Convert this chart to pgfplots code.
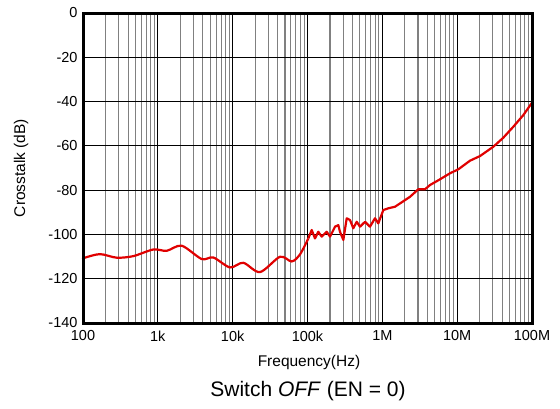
\documentclass[border=0pt]{standalone}
\usepackage{pgfplots}
\pgfplotsset{compat=1.18}
\usepackage{fontspec}
\setmainfont{Liberation Sans}
\definecolor{curvered}{RGB}{224,0,0}
\definecolor{minorgray}{RGB}{128,128,128}
\begin{document}
\begin{tikzpicture}[x=1pt,y=1pt]
\useasboundingbox (-83,-85) rectangle (477,323);
\begin{axis}[
    scale only axis,
    width=449pt, height=310pt,
    xmode=log,
    xmin=100, xmax=1e8,
    ymin=-140, ymax=0,
    xtick={1e2,1e3,1e4,1e5,1e6,1e7,1e8},
    xticklabels={100,1k,10k,100k,1M,10M,100M},
    ytick={-140,-120,-100,-80,-60,-40,-20,0},
    yticklabels={-140,-120,-100,-80,-60,-40,-20,0},
    grid=both,
    major grid style={black, line width=0.9pt},
    minor grid style={minorgray, line width=1.1pt},
    major tick length=0pt, minor tick length=0pt,
    axis line style={black, line width=3pt},
    tick label style={font=\fontsize{14.5}{16}\selectfont},
    xticklabel style={yshift=-4pt},
    yticklabel style={xshift=-2pt},
    clip=false,
]
\addplot[curvered, line width=2.2pt, smooth, tension=0.5] coordinates {
(100,-111) (106,-110.5) (169,-108.9) (282,-110.5) (470,-109.8) (871,-106.8)
(1312,-107.4) (2084,-105.1) (3855,-111.1) (5508,-110.4) (9204,-114.9)
(13870,-112.8) (23170,-117.0) (42850,-110.1) (61520,-112.2) (79430,-109)
(102600,-101.8)
};
\addplot[curvered, line width=2.2pt, line join=round] coordinates {
(102600,-101.8) (113800,-98) (125900,-101.8) (139300,-98.8) (154900,-101)
(180600,-98.8) (200000,-101) (233300,-96.5) (258200,-95.8) (271800,-98.8)
(301300,-102.5) (334200,-92.7) (369800,-93.5) (409300,-97.2) (454800,-94.3)
(503200,-96.5) (587100,-94.3) (684000,-96.5) (798000,-92.7) (883000,-95)
(1031000,-89) (1202000,-88.2) (1476000,-87.5) (1722000,-86) (2009000,-84.5)
(2344000,-83) (3027000,-79.6) (3715000,-79.6) (4335000,-77.7) (5902000,-75.1)
(8017000,-72.4) (10350000,-70.6) (14850000,-66.7) (20190000,-64.6)
(30400000,-60.4) (41400000,-56.3) (56200000,-51.4) (76600000,-46.1)
(100000000,-40.5)
};
\draw[black, line width=3pt] (rel axis cs:0,0) rectangle (rel axis cs:1,1);
\end{axis}
\node[anchor=base, font=\fontsize{15.5}{17}\selectfont] at (226,-43.7) {Frequency(Hz)};
\node[anchor=base, font=\fontsize{21}{24}\selectfont] at (225,-73.7) {Switch \textit{OFF} (EN = 0)};
\node[rotate=90, font=\fontsize{15.5}{17}\selectfont] at (-62,155) {Crosstalk (dB)};
\end{tikzpicture}
\end{document}
